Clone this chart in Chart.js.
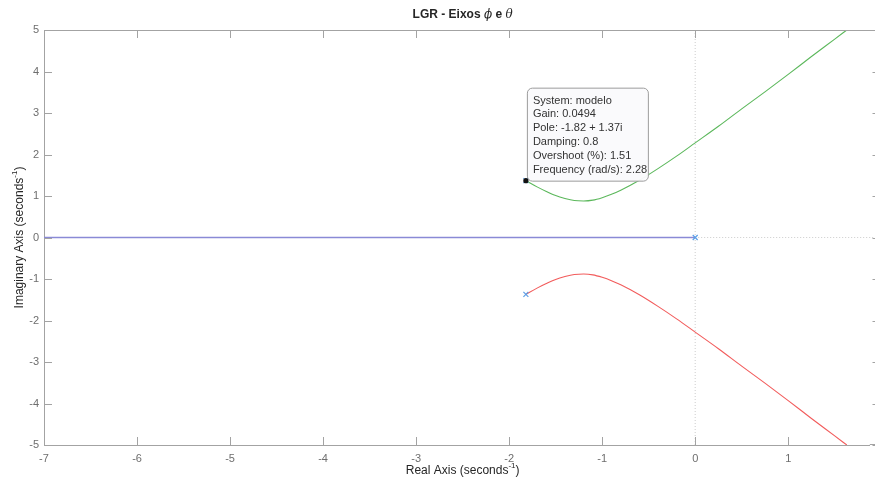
<!DOCTYPE html>
<html>
<head>
<meta charset="utf-8">
<title>LGR - Eixos phi e theta</title>
<script src="https://cdn.jsdelivr.net/npm/chart.js@4.4.1/dist/chart.umd.min.js"></script>
<style>
    html, body { margin: 0; padding: 0; background: #ffffff; }
    canvas { display: block; }
</style>
</head>
<body>
<canvas id="lgr-chart" width="875" height="484"></canvas>
<script>
// ── Data ─────────────────────────────────────────────────────────
const xTicks = [-7, -6, -5, -4, -3, -2, -1, 0, 1];
const yTicks = [-5, -4, -3, -2, -1, 0, 1, 2, 3, 4, 5];
// Chart.js keeps ~5px free on the right, so the scale stops a bit early;
// the real MATLAB box edge (x = 2) lies just past the picture's right edge
const xMin = -7, xMax = 1.877;
const xBoxEdge = 2;

// complex branches (upper = green, lower = red)
const branchRe = [-1.82, -1.7, -1.6, -1.5, -1.4, -1.3, -1.2, -1.1, -1.0, -0.9, -0.8,
                  -0.6, -0.4, -0.2, 0, 0.25, 0.5, 0.75, 1.0, 1.25, 1.5, 1.63];
const upperIm  = [1.37, 1.22, 1.11, 1.01, 0.94, 0.89, 0.88, 0.90, 0.96, 1.04, 1.14,
                  1.38, 1.66, 1.96, 2.28, 2.68, 3.10, 3.51, 3.93, 4.36, 4.78, 5.0];
const lowerIm  = [-1.37, -1.22, -1.11, -1.01, -0.94, -0.89, -0.88, -0.90, -0.96, -1.04, -1.14,
                  -1.38, -1.66, -1.96, -2.28, -2.68, -3.10, -3.51, -3.93, -4.36, -4.78, -5.0];

// real-axis branch from the pole at 0 out to -infinity
const realBranchRe = [-8, 0];
const realBranchIm = [0, 0];

// open-loop poles
const poleRe = [0, -1.82, -1.82];
const poleIm = [0, 1.37, -1.37];

// data tip
const tipPoint = { x: -1.82, y: 1.37 };
const tipLines = [
    'System: modelo',
    'Gain: 0.0494',
    'Pole: -1.82 + 1.37i',
    'Damping: 0.8',
    'Overshoot (%): 1.51',
    'Frequency (rad/s): 2.28'
];

// ── Styling ──────────────────────────────────────────────────────
const axisColor  = '#a3a3a3';
const labelColor = '#6e6e6e';
const textColor  = '#262626';
const tickLen    = 8;
const baseFont   = '"Liberation Sans", Arial, Helvetica, sans-serif';

const toPoints = (xs, ys) => xs.map((v, i) => ({ x: v, y: ys[i] }));

// draws text with a "-1" superscript, centred on (cx, cy) (optionally rotated)
function drawSupLabel(ctx, before, sup, after, cx, cy, rotate) {
    ctx.save();
    ctx.translate(cx, cy);
    if (rotate) ctx.rotate(-Math.PI / 2);
    const mainFont = '12px ' + baseFont;
    const supFont  = '8px ' + baseFont;
    ctx.font = mainFont;
    const w1 = ctx.measureText(before).width;
    const w3 = ctx.measureText(after).width;
    ctx.font = supFont;
    const w2 = ctx.measureText(sup).width;
    let x0 = -(w1 + w2 + w3) / 2;
    ctx.fillStyle = textColor;
    ctx.textBaseline = 'middle';
    ctx.textAlign = 'left';
    ctx.font = mainFont;
    ctx.fillText(before, x0, 0);
    ctx.font = supFont;
    ctx.fillText(sup, x0 + w1, -5);
    ctx.font = mainFont;
    ctx.fillText(after, x0 + w1 + w2, 0);
    ctx.restore();
}

// ── MATLAB-like box: top/right borders, inward ticks, titles, data tip ──
const matlabBox = {
    id: 'matlabBox',
    afterDatasetsDraw(chart) {
        const { ctx, chartArea: a, scales: { x, y } } = chart;
        const rightEdge = Math.round(x.getPixelForValue(xBoxEdge)) - 0.5;
        ctx.save();
        ctx.strokeStyle = axisColor;
        ctx.lineWidth = 1;
        ctx.beginPath();
        ctx.moveTo(a.left, a.top + 0.5);
        ctx.lineTo(rightEdge, a.top + 0.5);
        ctx.moveTo(a.right, a.bottom - 0.5);
        ctx.lineTo(rightEdge, a.bottom - 0.5);
        ctx.moveTo(rightEdge, a.top);
        ctx.lineTo(rightEdge, a.bottom);
        x.ticks.forEach(t => {
            const px = Math.round(x.getPixelForValue(t.value)) + 0.5;
            ctx.moveTo(px, a.bottom);
            ctx.lineTo(px, a.bottom - tickLen);
            ctx.moveTo(px, a.top);
            ctx.lineTo(px, a.top + tickLen);
        });
        y.ticks.forEach(t => {
            const py = Math.round(y.getPixelForValue(t.value)) + 0.5;
            ctx.moveTo(a.left, py);
            ctx.lineTo(a.left + tickLen, py);
            ctx.moveTo(rightEdge, py);
            ctx.lineTo(rightEdge - tickLen, py);
        });
        ctx.stroke();

        // data tip
        const px = x.getPixelForValue(tipPoint.x);
        const py = y.getPixelForValue(tipPoint.y);
        const bx = px + 1, by = py - 93, bw = 121, bh = 93;
        ctx.beginPath();
        ctx.roundRect(bx + 0.5, by + 0.5, bw, bh, 5);
        ctx.fillStyle = 'rgba(250,250,252,0.96)';
        ctx.fill();
        ctx.strokeStyle = '#9c9c9c';
        ctx.stroke();
        ctx.fillStyle = '#333333';
        ctx.font = '11px ' + baseFont;
        ctx.textBaseline = 'middle';
        ctx.textAlign = 'left';
        tipLines.forEach((line, i) => ctx.fillText(line, bx + 6, by + 13 + i * 13.8));
        ctx.beginPath();
        ctx.arc(px, py, 2.6, 0, Math.PI * 2);
        ctx.fillStyle = '#111111';
        ctx.fill();
        ctx.restore();
    },
    afterDraw(chart) {
        const { ctx, chartArea: a, scales: { x } } = chart;
        const boxRight = x.getPixelForValue(xBoxEdge);
        ctx.save();
        // title with italic greek letters
        const parts = [
            ['LGR - Eixos ', 'bold 12px ' + baseFont],
            ['\u03D5', 'italic 12px "DejaVu Serif", serif'],
            [' e ', 'bold 12px ' + baseFont],
            ['\u03B8', 'italic 12px "DejaVu Serif", serif']
        ];
        let total = 0;
        parts.forEach(p => { ctx.font = p[1]; total += ctx.measureText(p[0]).width; });
        let tx = (a.left + boxRight) / 2 - total / 2;
        ctx.fillStyle = textColor;
        ctx.textBaseline = 'alphabetic';
        ctx.textAlign = 'left';
        parts.forEach(p => {
            ctx.font = p[1];
            ctx.fillText(p[0], tx, 18);
            tx += ctx.measureText(p[0]).width;
        });
        ctx.restore();

        drawSupLabel(ctx, 'Real Axis (seconds', '-1', ')', (a.left + boxRight) / 2, 471, false);
        drawSupLabel(ctx, 'Imaginary Axis (seconds', '-1', ')', 20, (a.top + a.bottom) / 2, true);
    }
};

// ── Chart ─────────────────────────────────────────────────────────
const ctx = document.getElementById('lgr-chart').getContext('2d');

new Chart(ctx, {
    type: 'scatter',
    data: {
        datasets: [
            {
                label: 'poles',
                data: toPoints(poleRe, poleIm),
                showLine: false,
                pointStyle: 'crossRot',
                pointRadius: 3.5,
                pointBorderWidth: 1.2,
                borderColor: '#5d9fe6',
                backgroundColor: '#5d9fe6',
                order: 0
            },
            {
                label: 'upper branch',
                data: toPoints(branchRe, upperIm),
                showLine: true,
                borderColor: '#5cb85c',
                borderWidth: 1.1,
                pointRadius: 0,
                cubicInterpolationMode: 'monotone',
                order: 1
            },
            {
                label: 'lower branch',
                data: toPoints(branchRe, lowerIm),
                showLine: true,
                borderColor: '#f25c5c',
                borderWidth: 1.1,
                pointRadius: 0,
                cubicInterpolationMode: 'monotone',
                order: 1
            },
            {
                label: 'real branch',
                data: toPoints(realBranchRe, realBranchIm),
                showLine: true,
                borderColor: '#8a8ad6',
                borderWidth: 1.4,
                pointRadius: 0,
                order: 2
            },
            {
                label: 'im axis',
                data: [{ x: 0, y: -5 }, { x: 0, y: 5 }],
                showLine: true,
                borderColor: '#cccccc',
                borderWidth: 1,
                borderDash: [1, 2],
                pointRadius: 0,
                order: 3
            },
            {
                label: 're axis',
                data: [{ x: 0, y: 0 }, { x: 2, y: 0 }],
                showLine: true,
                borderColor: '#cccccc',
                borderWidth: 1,
                borderDash: [1, 2],
                pointRadius: 0,
                clip: false,
                order: 3
            }
        ]
    },
    options: {
        responsive: false,
        animation: false,
        events: [],
        layout: { padding: { top: 30, right: 0, left: 0, bottom: 0 } },
        plugins: {
            legend:  { display: false },
            tooltip: { enabled: false },
            title:   { display: false }
        },
        scales: {
            x: {
                type: 'linear',
                min: xMin,
                max: xMax,
                afterBuildTicks: s => { s.ticks = xTicks.map(v => ({ value: v })); },
                afterFit: s => { s.height = 39; },
                grid:   { display: false, drawTicks: false },
                border: { display: true, color: axisColor },
                ticks:  { color: labelColor, font: { size: 11, family: baseFont }, padding: 7, maxRotation: 0 }
            },
            y: {
                type: 'linear',
                min: -5,
                max: 5,
                afterBuildTicks: s => { s.ticks = yTicks.map(v => ({ value: v })); },
                afterFit: s => { s.width = 44; },
                grid:   { display: false, drawTicks: false },
                border: { display: true, color: axisColor },
                ticks:  { color: labelColor, font: { size: 11, family: baseFont }, padding: 5 }
            }
        }
    },
    plugins: [matlabBox]
});
</script>
</body>
</html>
